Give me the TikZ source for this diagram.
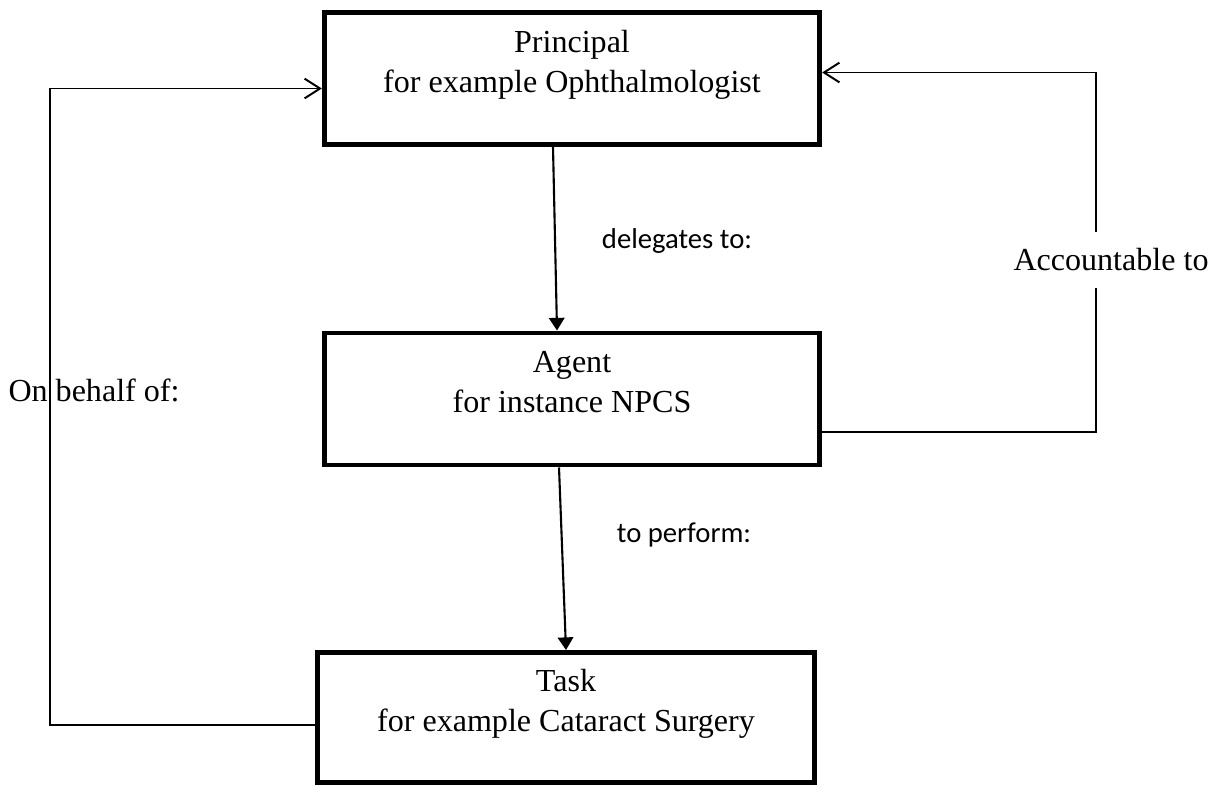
\documentclass[tikz,border=0pt]{standalone}
\usepackage{fontspec}
\setmainfont{Liberation Serif}
\newfontfamily\calibri{Carlito}
\usetikzlibrary{
    calc,
    arrows.meta
}

\begin{document}
\begin{tikzpicture}[
        x=0.025cm, y=-0.025cm,
        role box/.style={draw, line width=3.5pt, minimum width=12.38cm, minimum height=3.3cm,
            inner sep=0pt, align=center, font=\fontsize{22.8}{28.5}\selectfont},
        flow/.style={line width=1.5pt, -{Triangle[length=9pt, width=11pt]}},
        link/.style={line width=1.4pt, -{Straight Barb[length=11pt, width=14pt]}},
        flow label/.style={font=\calibri\fontsize{20.4}{24}\selectfont},
        link label/.style={font=\fontsize{22.8}{28.5}\selectfont}
    ]
    \useasboundingbox (0,0) rectangle (1220,785);
    \node[role box] (P) at (572,78.5) {Principal\\ for example Ophthalmologist\\[-4pt] \mbox{}};
    \node[role box] (A) at (572,399) {Agent\\ for instance NPCS\\[-4pt] \mbox{}};
    \node[role box, minimum width=12.41cm, minimum height=3.25cm] (T) at (566,717.5) {Task\\ for example Cataract Surgery\\[-4pt] \mbox{}};
    \coordinate (PE) at ($(P.east)+(0,-6)$);
    \coordinate (PW) at ($(P.west)+(0,10)$);
    \coordinate (accR) at (1096,0);
    \coordinate (behL) at (50,0);
    \draw[flow] ($(P.south)+(-19,0)$) -- ($(A.north)+(-15,0)$);
    \draw[flow] ($(A.south)+(-13,0)$) -- (T.north);
    \node[flow label] (del) at (677,241) {delegates to:};
    \node[flow label] (perf) at (684,535) {to perform:};
    % feedback lines
    \node[link label] (beh) at (94,390) {On behalf of:};
    \draw[link] ($(T.west)+(0,7)$) -| (behL |- PW) -- (PW);
    \draw[link] ($(A.east)+(0,33)$) -| (accR |- PE) -- (PE);
    \node[link label, fill=white, inner xsep=2pt, inner ysep=12pt] (acc) at (1111,260) {Accountable to};
\end{tikzpicture}
\end{document}
